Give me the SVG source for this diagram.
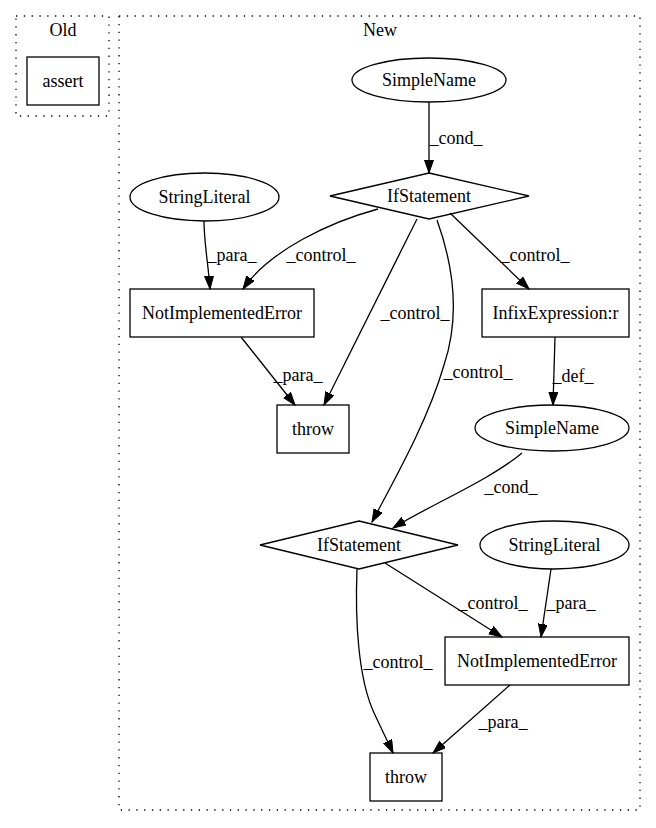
<svg xmlns="http://www.w3.org/2000/svg" width="656" height="828" viewBox="0 0 656 828">
<defs>
<marker id="arr" markerUnits="userSpaceOnUse" markerWidth="14" markerHeight="10" refX="13" refY="4.5" orient="auto">
<path d="M0,0 L13,4.5 L0,9 Z" fill="#000" stroke="#000" stroke-width="1"/>
</marker>
<style>
text{font-family:"Liberation Serif","Times New Roman",serif;font-size:18px;fill:#000}
.n{text-anchor:middle}
.shape{fill:none;stroke:#000;stroke-width:1.3}
.cl{fill:none;stroke:#000;stroke-width:1.3;stroke-dasharray:1.3,6.5}
.e{fill:none;stroke:#000;stroke-width:1.3;marker-end:url(#arr)}
.lbl{text-anchor:middle}
</style>
</defs>
<rect width="656" height="828" fill="#fff"/>
<g id="cluster_old">
<rect class="cl" x="16" y="16" width="93" height="100"/>
<text class="n" x="63" y="36">Old</text>
</g>
<g id="cluster_new">
<rect class="cl" x="119" y="16" width="521" height="794"/>
<text class="n" x="380" y="36">New</text>
</g>
<g id="assert">
<rect class="shape" x="27" y="57" width="72" height="48"/>
<text class="n" x="63" y="87">assert</text>
</g>
<g id="simplename1">
<ellipse class="shape" cx="429" cy="80" rx="77" ry="22"/>
<text class="n" x="429" y="86">SimpleName</text>
</g>
<g id="ifstatement1">
<polygon class="shape" points="429,173 529,196 429,219 330,196"/>
<text class="n" x="429" y="202">IfStatement</text>
</g>
<g id="stringliteral1">
<ellipse class="shape" cx="204.5" cy="197" rx="74.5" ry="24"/>
<text class="n" x="204.5" y="203">StringLiteral</text>
</g>
<g id="nie1">
<rect class="shape" x="130" y="289" width="184" height="48"/>
<text class="n" x="222" y="319">NotImplementedError</text>
</g>
<g id="throw1">
<rect class="shape" x="277" y="405" width="72" height="48"/>
<text class="n" x="313" y="435">throw</text>
</g>
<g id="infix">
<rect class="shape" x="482" y="289" width="147" height="48"/>
<text class="n" x="555.5" y="319">InfixExpression:r</text>
</g>
<g id="simplename2">
<ellipse class="shape" cx="552" cy="428" rx="77" ry="23"/>
<text class="n" x="552" y="434">SimpleName</text>
</g>
<g id="ifstatement2">
<polygon class="shape" points="359,521 458,545 359,569 260,545"/>
<text class="n" x="359" y="551">IfStatement</text>
</g>
<g id="stringliteral2">
<ellipse class="shape" cx="554.5" cy="545" rx="74.5" ry="24"/>
<text class="n" x="554.5" y="551">StringLiteral</text>
</g>
<g id="nie2">
<rect class="shape" x="445" y="637" width="184" height="48"/>
<text class="n" x="537" y="667">NotImplementedError</text>
</g>
<g id="throw2">
<rect class="shape" x="370" y="753" width="72" height="48"/>
<text class="n" x="406" y="783">throw</text>
</g>
<g id="edges">
<path class="e" d="M429,102 L429,173"/>
<text class="lbl" x="456" y="144">_cond_</text>
<path class="e" d="M204,221 C204,242 208,262 210,289"/>
<text class="lbl" x="232" y="261">_para_</text>
<path class="e" d="M378,209 C330,222 270,250 243,289"/>
<text class="lbl" x="321" y="261">_control_</text>
<path class="e" d="M417,219 L324,405"/>
<text class="lbl" x="415" y="319">_control_</text>
<path class="e" d="M437,220 C455,270 459,320 444,365 C428,420 397,475 372,522"/>
<text class="lbl" x="478" y="378">_control_</text>
<path class="e" d="M450,213 L529,289"/>
<text class="lbl" x="535" y="261">_control_</text>
<path class="e" d="M241,337 L295,405"/>
<text class="lbl" x="298" y="381">_para_</text>
<path class="e" d="M555,337 L553,405"/>
<text class="lbl" x="573" y="382">_def_</text>
<path class="e" d="M522,453 C490,480 430,505 393,528"/>
<text class="lbl" x="511" y="493">_cond_</text>
<path class="e" d="M385,563 L502,637"/>
<text class="lbl" x="493" y="609">_control_</text>
<path class="e" d="M551,569 L541,637"/>
<text class="lbl" x="571" y="609">_para_</text>
<path class="e" d="M357,569 C355,620 358,680 375,715 C382,730 388,742 393,753"/>
<text class="lbl" x="398" y="668">_control_</text>
<path class="e" d="M510,685 L433,753"/>
<text class="lbl" x="503" y="728">_para_</text>
</g>
</svg>
